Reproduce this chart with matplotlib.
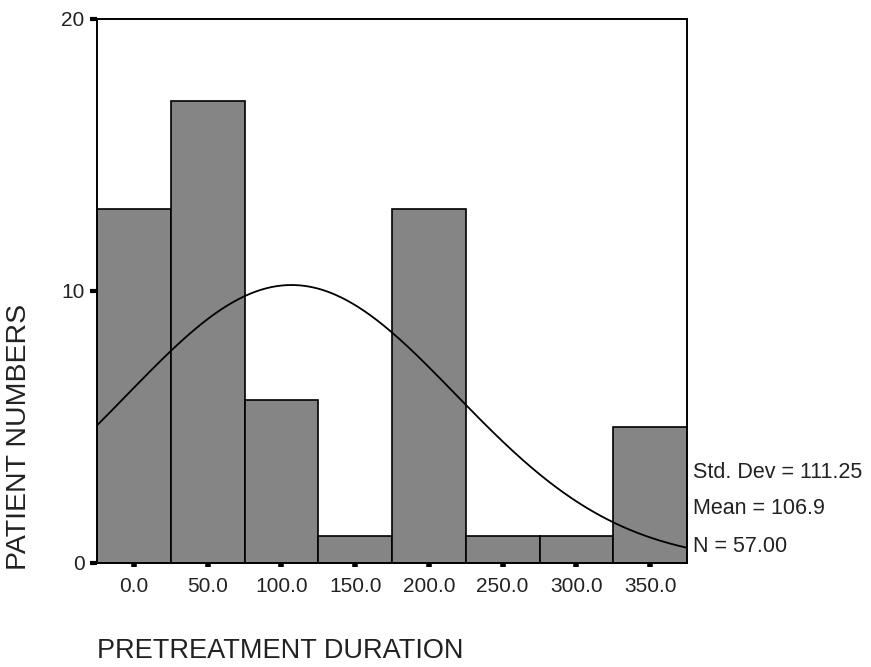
import numpy as np
import matplotlib
matplotlib.use("Agg")
import matplotlib.pyplot as plt

plt.rcParams['font.family'] = ['Liberation Sans', 'DejaVu Sans']

bin_centers = [0, 50, 100, 150, 200, 250, 300, 350]
counts = [13, 17, 6, 1, 13, 1, 1, 5]
bin_width = 50
tick_labels = ["0.0", "50.0", "100.0", "150.0", "200.0", "250.0", "300.0", "350.0"]
std_dev = 111.25
mean = 106.9
n = 57

fig = plt.figure(figsize=(8.71, 6.67), dpi=100)
ax = fig.add_axes([97/871, 1-563/667, 590/871, 544/667])

ax.bar(bin_centers, counts, width=bin_width, color='#858585', edgecolor='black', linewidth=1.2, zorder=2)

xs = np.linspace(-25, 375, 400)
ys = n * bin_width / (std_dev * np.sqrt(2*np.pi)) * np.exp(-0.5*((xs-mean)/std_dev)**2)
ax.plot(xs, ys, color='black', linewidth=1.3, zorder=3)

ax.set_xlim(-25, 375)
ax.set_ylim(0, 20)
ax.set_xticks(bin_centers)
ax.set_xticklabels(tick_labels, fontsize=15, color='#222222')
ax.set_yticks([0, 10, 20])
ax.set_yticklabels(["0", "10", "20"], fontsize=15, color='#222222')
ax.tick_params(axis='x', direction='out', length=3, width=4, pad=7)
ax.tick_params(axis='y', direction='out', length=5, width=3, pad=4)
for s in ax.spines.values():
    s.set_linewidth(1.4)

fig.text(97/871, 1-651/667, "PRETREATMENT DURATION", fontsize=19.5, color='#222222',
         ha='left', va='center')
fig.text(19/871, 1-437/667, "PATIENT NUMBERS", rotation=90, fontsize=20.5, color='#222222',
         ha='center', va='center')

fig.text(693/871, 1-472/667, "Std. Dev = 111.25", fontsize=15.5, color='#222222', va='center')
fig.text(693/871, 1-508/667, "Mean = 106.9", fontsize=15.5, color='#222222', va='center')
fig.text(693/871, 1-546/667, "N = 57.00", fontsize=15.5, color='#222222', va='center')

fig.savefig("out.png", dpi=100, facecolor='white')
